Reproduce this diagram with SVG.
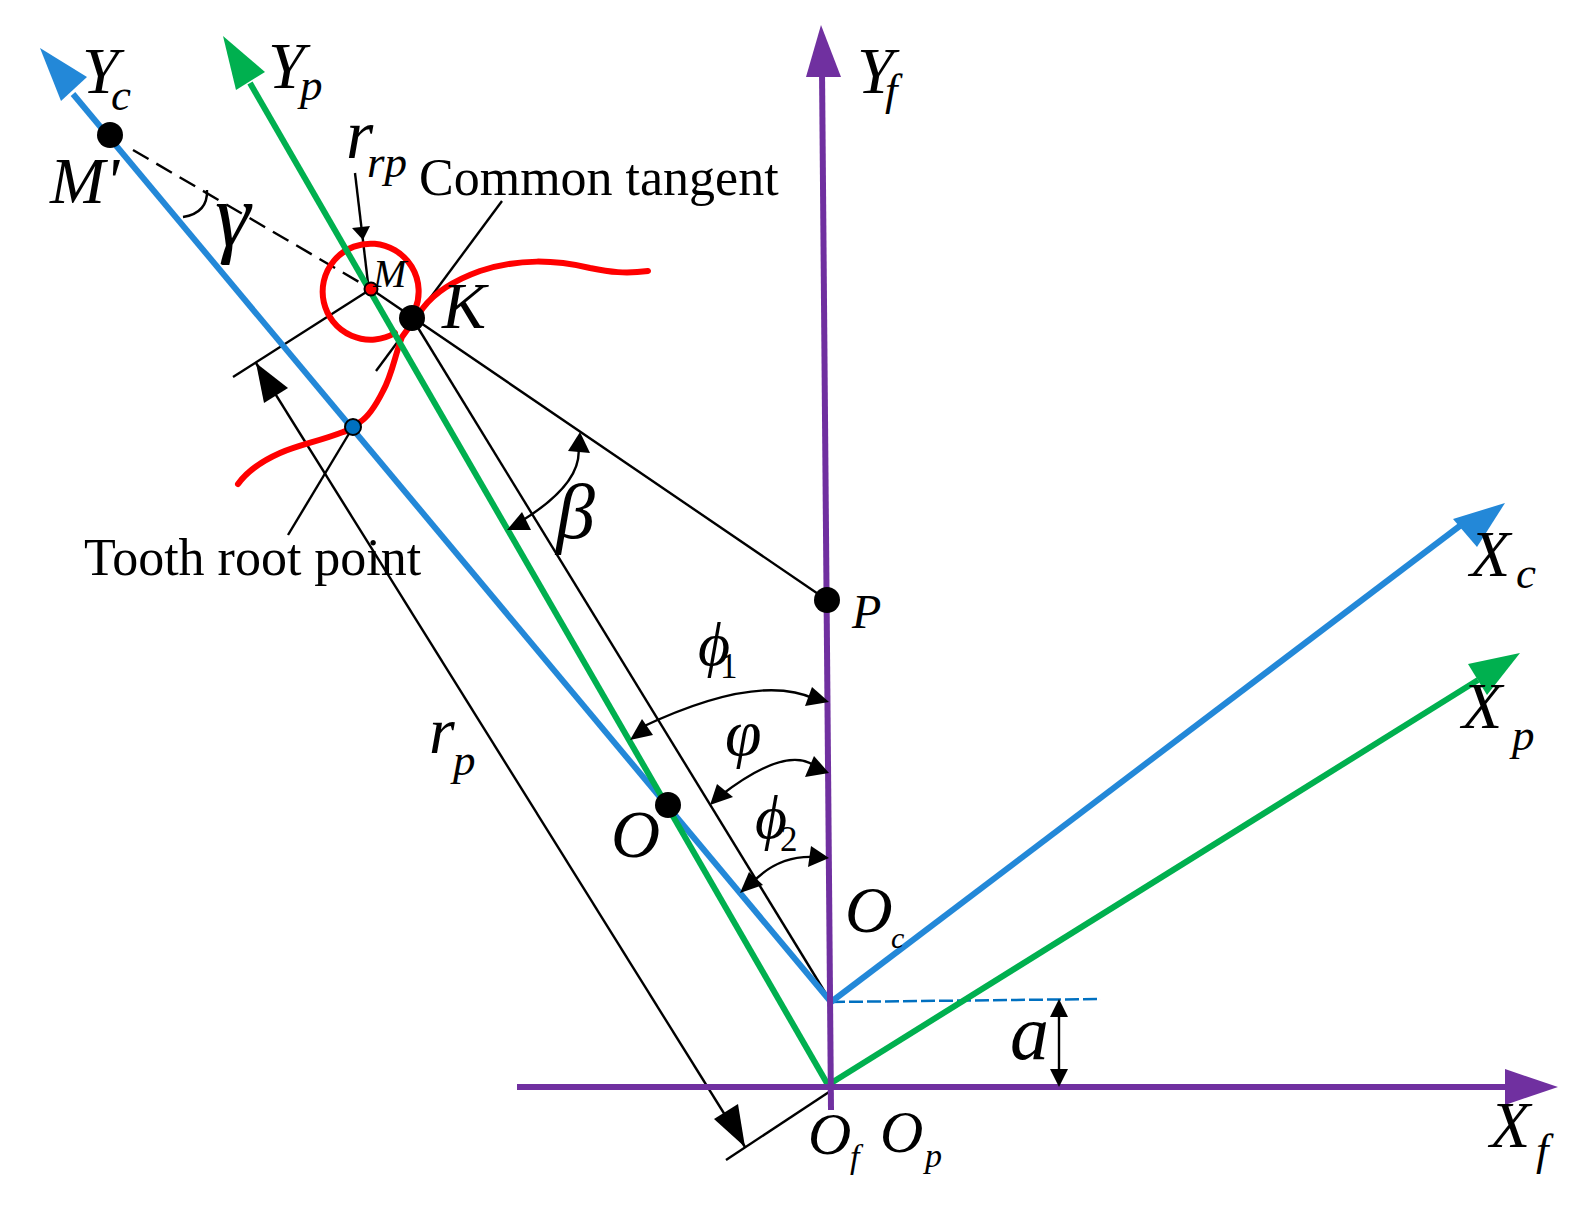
<svg xmlns="http://www.w3.org/2000/svg" width="1595" height="1210" viewBox="0 0 1595 1210">
<style>
text{font-family:"Liberation Serif","Times New Roman",serif;fill:#000}
.i{font-style:italic}
.l{font-size:66px;font-style:italic}
.s{font-size:45px;font-style:italic}
.n{font-size:52px}
.k{stroke:#000;stroke-width:2.4;fill:none}
.h{fill:#000;stroke:none}
.pu{stroke:#7030a0;stroke-width:6;fill:none}
.bl{stroke:#2388d8;stroke-width:6;fill:none}
.gr{stroke:#00b04f;stroke-width:6;fill:none}
.re{stroke:#f00;stroke-width:6;fill:none;stroke-linecap:round}
.d{fill:#000}
</style>
<rect width="1595" height="1210" fill="#fff"/>
<g id="connectors">
<path class="k" d="M133 150 L371 289" stroke-dasharray="18 9"/>
<path class="k" d="M207 190 Q208 213 183 217"/>
<path class="k" d="M371 289 L827 600"/>
<path class="k" d="M412 318 L831 1002"/>
<path class="k" d="M371 289 L233 377"/>
<path class="k" d="M256 363 L745 1147"/>
<path class="k" d="M832 1090 L726 1160"/>
<path class="k" d="M502 201 L376 371"/>
<path class="k" d="M353 427 L288 535"/>
<path class="k" d="M355 173 L368 283"/>
<path class="k" d="M640 728 Q758 672 815 699"/>
<path class="k" d="M720 796 Q786 745 815 766"/>
<path class="k" d="M750 885 Q777 855 815 857"/>
<path class="k" d="M520 522 Q585 482 578 445"/>
<path class="k" d="M1059 1010 V1075"/>
<path d="M831 1002 L1101 999" stroke="#0070c0" stroke-width="2.5" fill="none" stroke-dasharray="14 4"/>
<path class="re" d="M415 310 A48 48 0 1 0 395 333"/>
<path class="re" d="M648 271 C625 274 610 272 590 268 C555 260 520 258 480 271 C455 280 435 292 423 308 L402 337 C395 355 392 375 383 391 C376 405 368 417 360 422 C352 428 348 431 343 432 C320 441 298 445 280 453 C262 461 248 470 238 484"/>
<path class="bl" d="M831 1002 L73 94"/>
<polygon fill="#2388d8" points="40,48 87,77 61,101"/>
<path class="bl" d="M831 1002 L1465 522"/>
<polygon fill="#2388d8" points="1505,503 1453,519 1477,547"/>
<path class="gr" d="M828 1085 L250 83"/>
<polygon fill="#00b04f" points="223,36 265,72 236,90"/>
<path class="gr" d="M828 1085 L1478 680"/>
<polygon fill="#00b04f" points="1520,653 1468,664 1487,695"/>
<path class="pu" d="M822 70 L831 1110"/>
<polygon fill="#7030a0" points="821,25 806,77 841,77"/>
<path class="pu" d="M517 1087 H1510"/>
<polygon fill="#7030a0" points="1558,1087 1505,1069 1505,1105"/>
<polygon class="h" points="256,363 288,388 264,403"/>
<polygon class="h" points="745,1147 738,1104 714,1119"/>
<polygon class="h" points="363,240 352,228 370,226"/>
<polygon class="h" points="829,702 812,687 805,706"/>
<polygon class="h" points="630,740 642,719 653,735"/>
<polygon class="h" points="829,773 814,756 805,777"/>
<polygon class="h" points="710,805 717,784 733,797"/>
<polygon class="h" points="829,858 811,846 808,867"/>
<polygon class="h" points="740,893 749,872 763,885"/>
<polygon class="h" points="580,432 568,451 590,453"/>
<polygon class="h" points="507,530 522,512 531,530"/>
<polygon class="h" points="1059,999 1050,1017 1068,1017"/>
<polygon class="h" points="1059,1087 1050,1069 1068,1069"/>
</g>
<g id="node-Mprime"><circle class="d" cx="110" cy="135" r="13"/><text class="l" x="50" y="203">M'</text></g>
<g id="node-M"><circle cx="371" cy="289" r="6.5" fill="#f00" stroke="#000" stroke-width="2"/><text class="i" font-size="40" x="373" y="287">M</text></g>
<g id="node-K"><circle class="d" cx="412" cy="318" r="13"/><text class="l" x="442" y="328">K</text></g>
<g id="node-root"><circle cx="353" cy="427" r="8" fill="#0070c0" stroke="#000" stroke-width="2"/></g>
<g id="node-P"><circle class="d" cx="827" cy="600" r="13"/><text class="i" font-size="48" x="852" y="628">P</text></g>
<g id="node-O"><circle class="d" cx="668" cy="805" r="13"/><text class="i" font-size="68" x="611" y="857">O</text></g>
<g id="labels">
<text class="l" x="82" y="93">Y</text><text class="s" x="111" y="110">c</text>
<text class="l" x="268" y="88">Y</text><text class="s" x="300" y="100">p</text>
<text class="l" x="857" y="93">Y</text><text class="s" x="885" y="105">f</text>
<text class="i" font-size="70" x="346" y="158">r</text><text class="s" x="367" y="177">rp</text>
<text class="n" x="419" y="195">Common tangent</text>
<text class="n" x="84" y="575">Tooth root point</text>
<text class="i" font-size="78" x="556" y="538">β</text>
<text class="i" font-size="90" x="215" y="246">γ</text>
<text class="i" font-size="62" x="698" y="665">ϕ</text><text font-size="35" x="720" y="678">1</text>
<text class="i" font-size="66" x="725" y="755">φ</text>
<text class="i" font-size="62" x="755" y="838">ϕ</text><text font-size="35" x="780" y="851">2</text>
<text class="l" x="429" y="753">r</text><text class="s" x="453" y="775">p</text>
<text class="i" font-size="66" x="845" y="932">O</text><text class="i" font-size="30" x="891" y="948">c</text>
<text class="i" font-size="60" x="808" y="1154">O</text><text class="i" font-size="34" x="850" y="1168">f</text>
<text class="i" font-size="60" x="880" y="1152">O</text><text class="i" font-size="34" x="925" y="1167">p</text>
<text class="i" font-size="78" x="1010" y="1059">a</text>
<text class="l" x="1470" y="576">X</text><text class="s" x="1516" y="588">c</text>
<text class="l" x="1462" y="728">X</text><text class="s" x="1512" y="750">p</text>
<text class="l" x="1490" y="1147">X</text><text class="s" x="1536" y="1165">f</text>
</g>
</svg>
